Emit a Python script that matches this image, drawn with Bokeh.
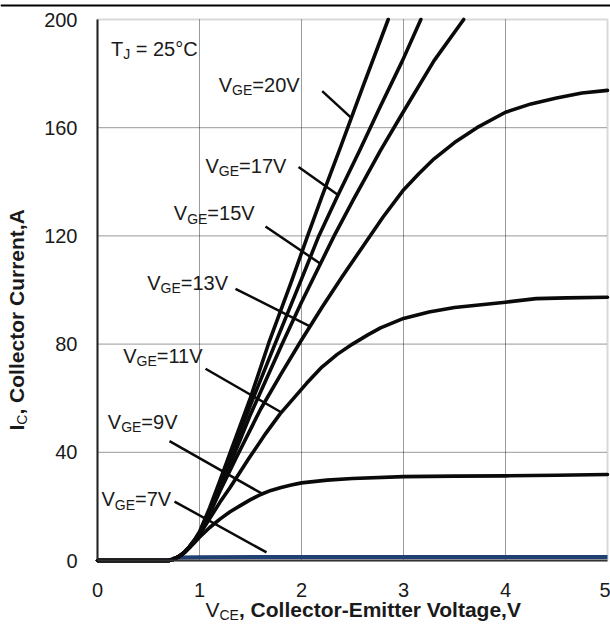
import math
from bokeh.plotting import figure
from bokeh.models import Range1d, Label, LinearAxis, BoxAnnotation, Grid
from bokeh.embed import file_html
from bokeh.resources import INLINE

# Collector-emitter voltage (V) and collector current (A) for each gate voltage
vce_20v = [0, 0.7, 0.75, 0.8, 0.85, 0.9, 0.95, 1.0, 1.1, 1.2, 1.3, 1.5, 1.68, 1.9, 2.06, 2.2, 2.38, 2.6, 2.85]
ic_20v = [0, 0, 0.5, 1.6, 3.1, 5.1, 7.6, 10.6, 19.5, 29.5, 39.8, 60.2, 80.5, 103, 120, 134.5, 152.5, 175, 200]

vce_17v = [0, 0.7, 0.75, 0.8, 0.85, 0.9, 0.95, 1.0, 1.1, 1.2, 1.3, 1.5, 1.74, 2.0, 2.17, 2.35, 2.57, 2.775, 2.99, 3.17]
ic_17v = [0, 0, 0.5, 1.5, 3.0, 5.0, 7.4, 10.2, 18.5, 28, 37.8, 57.5, 80, 104, 120, 134.5, 151.6, 168, 184.8, 200]

vce_15v = [0, 0.7, 0.75, 0.8, 0.85, 0.9, 0.95, 1.0, 1.1, 1.2, 1.33, 1.5, 1.81, 2.0, 2.32, 2.51, 2.775, 3.0, 3.3, 3.59]
ic_15v = [0, 0, 0.5, 1.5, 2.9, 4.9, 7.2, 9.9, 17.8, 26.6, 38.2, 54, 80, 95.5, 120, 133.5, 151.6, 166, 184.8, 200]

vce_13v = [0, 0.7, 0.75, 0.8, 0.85, 0.9, 0.95, 1.0, 1.1, 1.2, 1.36, 1.6, 1.8, 2.0, 2.2, 2.4, 2.6, 2.8, 3.0,
           3.15, 3.3, 3.5, 3.72, 4.0, 4.25, 4.5, 4.75, 5.0]
ic_13v = [0, 0, 0.5, 1.5, 2.9, 4.8, 7.1, 9.7, 17.2, 25.6, 38, 56, 69, 81.5, 93.5, 105, 116, 127, 137,
          143, 148.5, 154.5, 160, 165.7, 168.8, 171, 172.8, 173.8]

vce_11v = [0, 0.7, 0.75, 0.8, 0.85, 0.9, 0.95, 1.0, 1.1, 1.2, 1.3, 1.48, 1.65, 1.79, 2.05, 2.2, 2.35, 2.5,
           2.65, 2.775, 3.0, 3.25, 3.5, 4.0, 4.3, 4.6, 5.0]
ic_11v = [0, 0, 0.5, 1.5, 2.9, 4.8, 7.0, 9.5, 15.5, 21.5, 27, 37.5, 47, 54.2, 65.5, 71.5, 76.2, 80,
          83.4, 86, 89.5, 91.9, 93.5, 95.5, 96.8, 97.1, 97.3]

vce_9v = [0, 0.7, 0.75, 0.8, 0.85, 0.9, 0.95, 1.0, 1.1, 1.2, 1.3, 1.4, 1.5, 1.6, 1.7, 1.8, 1.9, 2.0, 2.25,
          2.5, 3.0, 3.5, 4.0, 4.5, 5.0]
ic_9v = [0, 0, 0.5, 1.5, 2.8, 4.6, 6.6, 8.6, 12.2, 15.3, 18, 20.3, 22.5, 24.4, 25.9, 27, 27.9, 28.7, 29.7,
         30.3, 31, 31.2, 31.3, 31.5, 31.8]

vce_7v = [0, 0.7, 0.75, 0.8, 1.0, 2.0, 3.0, 4.0, 5.0]
ic_7v = [0, 0, 0.8, 1.1, 1.2, 1.3, 1.3, 1.3, 1.3]

x_ticks = [0, 1, 2, 3, 4, 5]
y_ticks = [0, 40, 80, 120, 160, 200]

gate_labels = ["20V", "17V", "15V", "13V", "11V", "9V", "7V"]

# ---------------------------------------------------------------- layout
W, H = 610, 626
LEFT, RIGHT, TOP, BOTTOM = 97, 3, 19, 66      # plot-area margins in pixels
X0, X1, Y0, Y1 = 0, 5, 0, 200
XPX = (W - LEFT - RIGHT) / (X1 - X0)          # pixels per volt
YPX = (H - TOP - BOTTOM) / (Y1 - Y0)          # pixels per ampere

# the data ranges cover the whole canvas so the margin texts are drawn in data space
p = figure(width=W, height=H, output_backend="svg", toolbar_location=None,
           x_range=Range1d(X0 - LEFT / XPX, X1 + RIGHT / XPX),
           y_range=Range1d(Y0 - BOTTOM / YPX, Y1 + TOP / YPX),
           x_axis_location=None, y_axis_location=None,
           min_border=0, min_border_left=0, min_border_right=0,
           min_border_top=0, min_border_bottom=0)
p.center = [r for r in p.center if not isinstance(r, Grid)]
p.background_fill_color = "white"
p.border_fill_color = "white"
p.outline_line_color = None


def px_to_data(px, py):
    return X0 + (px - LEFT) / XPX, Y0 + (H - BOTTOM - py) / YPX


# dotted grid at the tick positions, inside the plot area
grid_style = dict(line_color="#111111", line_width=1, line_dash="1 1", line_alpha=0.85, level="underlay")
p.segment(x0=x_ticks[1:-1], y0=[Y0] * 4, x1=x_ticks[1:-1], y1=[Y1] * 4, **grid_style)
p.segment(x0=[X0] * 4, y0=y_ticks[1:-1], x1=[X1] * 4, y1=y_ticks[1:-1], **grid_style)

# plot-area border
p.add_layout(BoxAnnotation(left=X0, right=X1, bottom=Y0, top=Y1, fill_alpha=0,
                           line_color="#808080", line_width=2, level="underlay"))

# rule across the top of the sheet
rx0, ry_top = px_to_data(0, 4)
rx1, ry_bot = px_to_data(W, 6)
p.add_layout(BoxAnnotation(left=rx0, right=rx1, bottom=ry_bot, top=ry_top,
                           fill_color="black", fill_alpha=1.0, line_alpha=0))

# axes pinned to the data origin
xaxis = LinearAxis(fixed_location=Y0, bounds=(X0, X1), ticker=x_ticks)
yaxis = LinearAxis(fixed_location=X0, bounds=(Y0, Y1), ticker=y_ticks)
for ax in (xaxis, yaxis):
    ax.major_tick_out = 0
    ax.major_tick_in = 0
    ax.minor_tick_out = 0
    ax.minor_tick_in = 0
    ax.major_label_text_font = "Liberation Sans"
    ax.major_label_text_font_size = "20px"
    ax.major_label_text_color = "#1a1a1a"
    ax.axis_line_width = 2
xaxis.axis_line_color = "#333333"
yaxis.axis_line_color = "#222222"
xaxis.major_label_standoff = 22
yaxis.major_label_standoff = 20
p.add_layout(xaxis, "below")
p.add_layout(yaxis, "left")

# ---------------------------------------------------------------- curves
p.line(vce_7v, ic_7v, line_color="#203f73", line_width=4)
curve_black = "#0a0a0a"
for xs, ys in [(vce_9v, ic_9v), (vce_11v, ic_11v), (vce_13v, ic_13v),
               (vce_15v, ic_15v), (vce_17v, ic_17v), (vce_20v, ic_20v)]:
    p.line(xs, ys, line_color=curve_black, line_width=3.6, line_join="round", line_cap="round")

# ---------------------------------------------------------------- text helpers
REG = {'V': 667, 'T': 611, 'G': 778, 'E': 667, 'J': 500, '=': 584, ' ': 278, '\u00a0': 278,
       '°': 400, 'C': 722, 'I': 278, ',': 278}
for d in "0123456789":
    REG[d] = 556
BOLD = {'V': 667, 'I': 278, 'C': 722, 'E': 667, ',': 278, ' ': 278, 'o': 611, 'l': 278,
        'e': 556, 'c': 556, 't': 333, 'r': 389, 'u': 611, 'n': 611, 'A': 722, '-': 333,
        'm': 889, 'i': 278, 'a': 556, 'g': 611}
BASELINE_LIFT = 0.4   # label anchors sit this fraction of the font size below the drawn baseline


def text_width(s, size, bold=False):
    table = BOLD if bold else REG
    return sum(table.get(ch, 556) for ch in s) * size / 1000.0


def label(x, y, text, size, bold=False, angle=0.0):
    p.add_layout(Label(x=x, y=y, text=text, text_font="Liberation Sans",
                       text_font_size=f"{size}px", text_color="#1a1a1a",
                       text_font_style="bold" if bold else "normal",
                       text_align="left", text_baseline="alphabetic", angle=angle))


def sub_text(x, y, pieces, rotated=False):
    """Text with subscripts; (x, y) is the baseline start in data units."""
    pos = 0.0
    for txt, size, bold, is_sub in pieces:
        drop = (3.0 if is_sub else 0.0) - BASELINE_LIFT * size
        if rotated:
            label(x + drop / XPX, y + pos / YPX, txt, size, bold, angle=math.pi / 2)
        else:
            label(x + pos / XPX, y - drop / YPX, txt, size, bold)
        pos += text_width(txt, size, bold)


# ---------------------------------------------------------------- annotations
# baseline anchors (V, A) of the gate-voltage labels and their leader lines
label_anchor = {"20V": (1.189, 172.8), "17V": (1.059, 143.0), "15V": (0.748, 125.4),
                "13V": (0.487, 99.6), "11V": (0.252, 72.7), "9V": (0.101, 48.3),
                "7V": (0.039, 19.7)}
leader = {"20V": ((2.203, 173.5), (2.480, 163.9)),
          "17V": ((1.971, 145.5), (2.366, 134.9)),
          "15V": ((1.647, 123.5), (2.186, 109.7)),
          "13V": ((1.353, 100.4), (2.088, 86.5)),
          "11V": ((1.059, 70.9), (1.804, 54.7)),
          "9V": ((0.706, 44.1), (1.613, 24.7)),
          "7V": ((0.755, 21.8), (1.657, 3.0))}

for g in gate_labels:
    ax_, ay_ = label_anchor[g]
    sub_text(ax_, ay_, [("V", 20, False, False), ("GE", 14, False, True), ("=" + g, 20, False, False)])
    (sx, sy), (ex, ey) = leader[g]
    p.segment(x0=[sx], y0=[sy], x1=[ex], y1=[ey], line_color=curve_black, line_width=2.5)

sub_text(0.132, 186.2, [("T", 20, False, False), ("J", 14, False, True),
                        ("\u00a0=\u00a025°C", 20, False, False)])

# axis titles with subscripts, in the margins
tx, ty = px_to_data(205, 617)
sub_text(tx, ty, [("V", 21, False, False), ("CE", 14, False, True),
                  (", Collector-Emitter Voltage,V", 21, True, False)])
tx, ty = px_to_data(24, 430)
sub_text(tx, ty, [("I", 21, True, False), ("C", 14, False, True),
                  (", Collector Current,A", 21, True, False)], rotated=True)

open("out.html", "w").write(file_html(p, INLINE))
